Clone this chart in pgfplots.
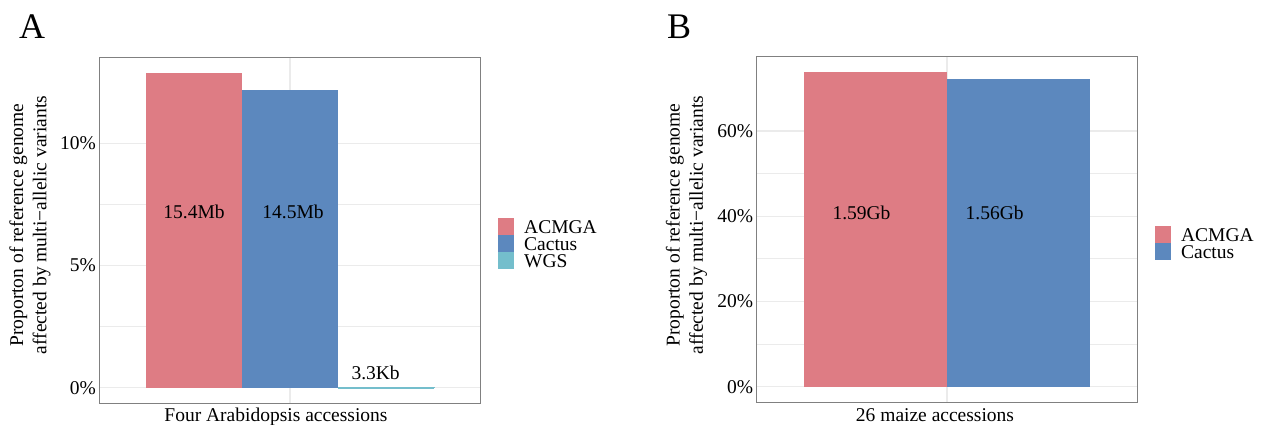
\documentclass[border=0pt]{standalone}
\usepackage{fontspec}
\setmainfont{Liberation Serif}
\usepackage{pgfplots}
\pgfplotsset{compat=1.18}
\definecolor{cA}{HTML}{DE7C84}
\definecolor{cC}{HTML}{5C88BE}
\definecolor{cW}{HTML}{74BECC}
\definecolor{gridc}{HTML}{EBEBEB}
\definecolor{framec}{HTML}{808080}
\newcommand\fs{\fontsize{19.5}{23.4}\selectfont}
\pgfplotsset{
  panel/.style={
    scale only axis, anchor=south west,
    axis line style={framec, line width=0.9pt},
    major tick length=0pt, minor tick length=0pt,
    tick style={draw=none},
    xmajorgrids, ymajorgrids, yminorgrids,
    major grid style={gridc, line width=1.4pt},
    minor grid style={gridc, line width=0.8pt},
    minor y tick num=1,
    xtick={1}, xticklabels={},
    tick label style={font=\fs},
    /pgf/number format/assume math mode=true,
    legend style={draw=none, fill=none, anchor=north west, font=\fs,
      inner sep=0pt, row sep=0pt, column sep=10pt,
      nodes={inner sep=0pt, text height=15pt, text depth=2pt}},
    legend cell align=left,
  },
  barleg/.style={legend image code/.code={\fill[##1, draw=none] (0pt,-8.5pt) rectangle (16pt,8.5pt);}},
}
\begin{document}
\begin{tikzpicture}
\useasboundingbox (0pt,0pt) rectangle (1263pt,425pt);
% Panel A
\node[anchor=base west, font=\fontsize{36}{40}\selectfont, inner sep=0pt] at (19pt,386pt) {A};
\node[rotate=90, align=center, font=\fs, inner sep=0pt] at (30pt,200pt)
  {Proporton of reference genome\\affected by multi−allelic variants};
\node[anchor=base, font=\fs, inner sep=0pt] at (276pt,3pt) {Four Arabidopsis accessions};
\begin{axis}[panel,
  at={(99.3pt,21.7pt)}, width=381pt, height=345.6pt,
  xmin=0.404, xmax=1.594, ymin=-0.64, ymax=13.52,
  ytick={0,5,10}, yticklabels={0\%,5\%,10\%},
  legend style={at={(axis description cs:1.0465,0.536)}},
]
\addplot[ybar, bar width=0.3, bar shift=-0.3, fill=cA, draw=none, barleg] coordinates {(1,12.9)};
\addlegendentry{ACMGA}
\addplot[ybar, bar width=0.3, bar shift=0, fill=cC, draw=none, barleg] coordinates {(1,12.2)};
\addlegendentry{Cactus}
\addplot[ybar, bar width=0.3, bar shift=0.3, fill=cW, draw=cW, line width=0.8pt, barleg] coordinates {(1,0.003)};
\addlegendentry{WGS}
\node[font=\fs, inner sep=0pt] at (axis cs:0.70,7.19) {15.4Mb};
\node[font=\fs, inner sep=0pt] at (axis cs:1.009,7.19) {14.5Mb};
\node[font=\fs, inner sep=0pt] at (axis cs:1.267,0.61) {3.3Kb};
\end{axis}
% Panel B
\node[anchor=base west, font=\fontsize{36}{40}\selectfont, inner sep=0pt] at (667pt,386pt) {B};
\node[rotate=90, align=center, font=\fs, inner sep=0pt] at (686.5pt,200pt)
  {Proporton of reference genome\\affected by multi−allelic variants};
\node[anchor=base, font=\fs, inner sep=0pt] at (935pt,3pt) {26 maize accessions};
\begin{axis}[panel,
  at={(756.7pt,22.7pt)}, width=380.3pt, height=346.3pt,
  xmin=0.403, xmax=1.597, ymin=-3.66, ymax=77.6,
  ytick={0,20,40,60}, yticklabels={0\%,20\%,40\%,60\%},
  legend style={at={(axis description cs:1.047,0.509)}},
]
\addplot[ybar, bar width=0.45, bar shift=-0.225, fill=cA, draw=none, barleg] coordinates {(1,73.9)};
\addlegendentry{ACMGA}
\addplot[ybar, bar width=0.45, bar shift=0.225, fill=cC, draw=none, barleg] coordinates {(1,72.2)};
\addlegendentry{Cactus}
\node[font=\fs, inner sep=0pt] at (axis cs:0.732,40.8) {1.59Gb};
\node[font=\fs, inner sep=0pt] at (axis cs:1.150,40.8) {1.56Gb};
\end{axis}
\end{tikzpicture}
\end{document}
